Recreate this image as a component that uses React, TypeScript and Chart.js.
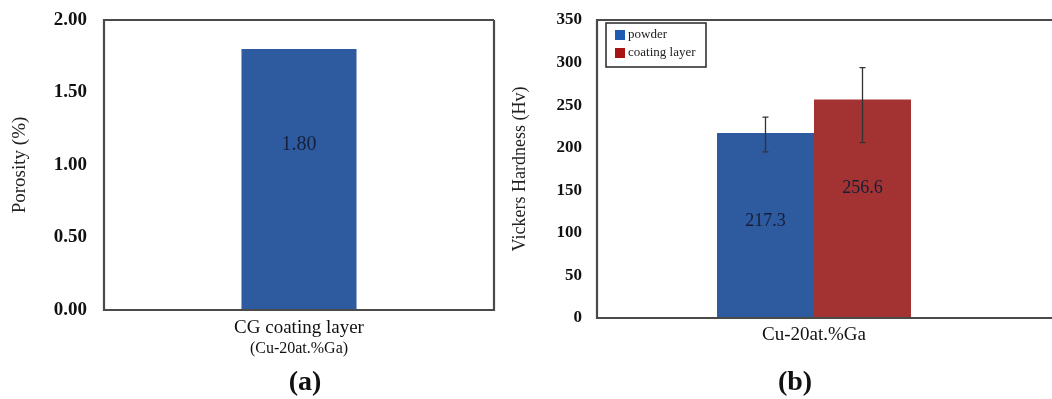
import React, { useEffect, useRef } from "react";
import { Chart, registerables } from "chart.js";

Chart.register(...registerables);

// ---- Panel (a) data ----
const porosityCategories = ["CG coating layer"];
const porosityValues = [1.8];
const porosityLabels = ["1.80"];
const porosityTicks = [0, 0.5, 1.0, 1.5, 2.0];

// ---- Panel (b) data ----
const hardnessCategories = ["Cu-20at.%Ga"];
const powderValues = [217.3];
const coatingValues = [256.6];
const powderErrLow = [195];
const powderErrHigh = [236];
const coatingErrLow = [206];
const coatingErrHigh = [294];
const hardnessTicks = [0, 50, 100, 150, 200, 250, 300, 350];

const SERIF = "'Liberation Serif', 'Times New Roman', serif";
const FRAME = "#4a4a4a";
const CLEAR = "rgba(0,0,0,0)";

const framePlugin = {
  id: "frame",
  afterDatasetsDraw(chart: any, _args: any, opts: any) {
    const { ctx, chartArea } = chart;
    const { left, right, top, bottom } = chartArea;
    const r = opts.openRight ? chart.width : right;
    ctx.save();
    ctx.strokeStyle = FRAME;
    ctx.lineWidth = 2.2;
    ctx.beginPath();
    ctx.moveTo(r, top);
    ctx.lineTo(left, top);
    ctx.lineTo(left, bottom);
    ctx.lineTo(r, bottom);
    if (!opts.openRight) ctx.lineTo(r, top);
    ctx.stroke();
    ctx.restore();
  },
};

const errorBarPlugin = {
  id: "errorBars",
  afterDatasetsDraw(chart: any, _args: any, opts: any) {
    if (!opts.errors) return;
    const { ctx } = chart;
    const yScale = chart.scales.y;
    ctx.save();
    ctx.strokeStyle = "#333333";
    ctx.lineWidth = 1.3;
    opts.errors.forEach((err: any, di: number) => {
      const meta = chart.getDatasetMeta(di);
      meta.data.forEach((bar: any, i: number) => {
        const yHi = yScale.getPixelForValue(err.high[i]);
        const yLo = yScale.getPixelForValue(err.low[i]);
        const x = bar.x;
        ctx.beginPath();
        ctx.moveTo(x, yHi);
        ctx.lineTo(x, yLo);
        ctx.moveTo(x - 3, yHi);
        ctx.lineTo(x + 3, yHi);
        ctx.moveTo(x - 3, yLo);
        ctx.lineTo(x + 3, yLo);
        ctx.stroke();
      });
    });
    ctx.restore();
  },
};

const barLabelPlugin = {
  id: "barLabels",
  afterDatasetsDraw(chart: any, _args: any, opts: any) {
    if (!opts.labels) return;
    const { ctx } = chart;
    ctx.save();
    ctx.textAlign = "center";
    ctx.textBaseline = "middle";
    ctx.font = opts.font;
    ctx.fillStyle = opts.color;
    opts.labels.forEach((labels: string[], di: number) => {
      const meta = chart.getDatasetMeta(di);
      meta.data.forEach((bar: any, i: number) => {
        const frac = opts.fractions[di];
        const y = bar.y + (bar.base - bar.y) * frac;
        ctx.fillText(labels[i], bar.x, y);
      });
    });
    ctx.restore();
  },
};

const captionPlugin = {
  id: "caption",
  afterDraw(chart: any, _args: any, opts: any) {
    if (!opts.text) return;
    const { ctx } = chart;
    ctx.save();
    ctx.textAlign = "center";
    ctx.textBaseline = "middle";
    ctx.font = `bold 28px ${SERIF}`;
    ctx.fillStyle = "#111111";
    ctx.fillText(opts.text, opts.x, opts.y);
    ctx.restore();
  },
};

const boxLegendPlugin = {
  id: "boxLegend",
  afterDraw(chart: any, _args: any, opts: any) {
    if (!opts.show) return;
    const { ctx, chartArea } = chart;
    const x0 = chartArea.left + 9;
    const y0 = chartArea.top + 3;
    const w = 100;
    const h = 44;
    ctx.save();
    ctx.fillStyle = "#ffffff";
    ctx.fillRect(x0, y0, w, h);
    ctx.strokeStyle = "#333333";
    ctx.lineWidth = 1.6;
    ctx.strokeRect(x0, y0, w, h);
    ctx.font = `13px ${SERIF}`;
    ctx.textBaseline = "middle";
    ctx.textAlign = "left";
    chart.data.datasets.forEach((ds: any, i: number) => {
      const cy = y0 + 12 + i * 18;
      ctx.fillStyle = opts.swatches[i];
      ctx.fillRect(x0 + 9, cy - 5, 10, 10);
      ctx.fillStyle = "#222222";
      ctx.fillText(ds.label, x0 + 22, cy);
    });
    ctx.restore();
  },
};

function PorosityChart() {
  const ref = useRef<HTMLCanvasElement>(null);
  useEffect(() => {
    const chart = new Chart(ref.current as HTMLCanvasElement, {
      type: "bar",
      data: {
        labels: porosityCategories,
        datasets: [
          {
            label: "Porosity",
            data: porosityValues,
            backgroundColor: "#2e5a9f",
            borderWidth: 0,
            categoryPercentage: 0.295,
            barPercentage: 1,
          },
        ],
      },
      options: {
        responsive: false,
        animation: false,
        devicePixelRatio: 1,
        layout: { padding: { left: 0, right: 6, top: 20, bottom: 40.4 } },
        plugins: {
          legend: { display: false },
          tooltip: { enabled: false },
          title: { display: false },
          frame: { openRight: false },
          caption: { text: "(a)", x: 305, y: 383 },
          barLabels: {
            labels: [porosityLabels],
            fractions: [0.368],
            font: `20px ${SERIF}`,
            color: "#16213d",
          },
          errorBars: {},
          boxLegend: { show: false },
        } as any,
        scales: {
          x: {
            grid: { display: false, drawTicks: false },
            border: { display: false },
            ticks: {
              padding: 6.6,
              color: "#111111",
              font: { family: SERIF, size: 19, lineHeight: 1.2 },
            },
            title: {
              display: true,
              text: "(Cu-20at.%Ga)",
              color: "#111111",
              font: { family: SERIF, size: 16, lineHeight: 1.2 },
              padding: { top: 0, bottom: 0 },
            },
            afterFit: (s: any) => {
              s.height = 48.6;
            },
          },
          y: {
            min: 0,
            max: 2,
            grid: { display: true, color: CLEAR, drawTicks: true, tickLength: 15 },
            border: { display: false },
            afterBuildTicks: (s: any) => {
              s.ticks = porosityTicks.map((v) => ({ value: v }));
            },
            ticks: {
              padding: 2,
              color: "#111111",
              font: { family: SERIF, size: 19, weight: "bold" },
              callback: (v: any) => Number(v).toFixed(2),
            },
            title: {
              display: true,
              text: "Porosity (%)",
              color: "#222222",
              font: { family: SERIF, size: 19, lineHeight: 1.2 },
              padding: { top: 8.6, bottom: 0 },
            },
            afterFit: (s: any) => {
              s.width = 104;
            },
          },
        },
      },
      plugins: [framePlugin, barLabelPlugin, errorBarPlugin, boxLegendPlugin, captionPlugin],
    });
    return () => chart.destroy();
  }, []);
  return (
    <canvas
      ref={ref}
      width={500}
      height={399}
      style={{ position: "absolute", left: 0, top: 0, width: 500, height: 399 }}
    />
  );
}

function HardnessChart() {
  const ref = useRef<HTMLCanvasElement>(null);
  useEffect(() => {
    const chart = new Chart(ref.current as HTMLCanvasElement, {
      type: "bar",
      data: {
        labels: hardnessCategories,
        datasets: [
          {
            label: "powder",
            data: powderValues,
            backgroundColor: "#2e5a9f",
            borderWidth: 0,
            categoryPercentage: 0.447,
            barPercentage: 1,
          },
          {
            label: "coating layer",
            data: coatingValues,
            backgroundColor: "#a33332",
            borderWidth: 0,
            categoryPercentage: 0.447,
            barPercentage: 1,
          },
        ],
      },
      options: {
        responsive: false,
        animation: false,
        devicePixelRatio: 1,
        layout: { padding: { left: 0, right: 21, top: 20, bottom: 41 } },
        plugins: {
          legend: { display: false },
          tooltip: { enabled: false },
          title: { display: false },
          frame: { openRight: true },
          caption: { text: "(b)", x: 295, y: 383 },
          barLabels: {
            labels: [powderValues.map((v) => v.toFixed(1)), coatingValues.map((v) => v.toFixed(1))],
            fractions: [0.48, 0.405],
            font: `18px ${SERIF}`,
            color: "#161d38",
          },
          errorBars: {
            errors: [
              { low: powderErrLow, high: powderErrHigh },
              { low: coatingErrLow, high: coatingErrHigh },
            ],
          },
          boxLegend: { show: true, swatches: ["#1f5cb0", "#a81414"] },
        } as any,
        scales: {
          x: {
            grid: { display: false, drawTicks: false },
            border: { display: false },
            ticks: {
              padding: 5.6,
              color: "#111111",
              font: { family: SERIF, size: 19, lineHeight: 1.2 },
            },
            afterFit: (s: any) => {
              s.height = 40;
            },
          },
          y: {
            min: 0,
            max: 350,
            grid: { display: true, color: CLEAR, drawTicks: true, tickLength: 13 },
            border: { display: false },
            afterBuildTicks: (s: any) => {
              s.ticks = hardnessTicks.map((v) => ({ value: v }));
            },
            ticks: {
              padding: 2,
              color: "#111111",
              font: { family: SERIF, size: 17, weight: "bold" },
            },
            title: {
              display: true,
              text: "Vickers Hardness (Hv)",
              color: "#222222",
              font: { family: SERIF, size: 18, lineHeight: 1.2 },
              padding: { top: 9.2, bottom: 0 },
            },
            afterFit: (s: any) => {
              s.width = 97;
            },
          },
        },
      },
      plugins: [framePlugin, barLabelPlugin, errorBarPlugin, boxLegendPlugin, captionPlugin],
    });
    return () => chart.destroy();
  }, []);
  return (
    <canvas
      ref={ref}
      width={552}
      height={399}
      style={{ position: "absolute", left: 500, top: 0, width: 552, height: 399 }}
    />
  );
}

export default function App() {
  return (
    <div
      style={{
        position: "fixed",
        left: 0,
        top: 0,
        width: 1052,
        height: 399,
        background: "#ffffff",
        overflow: "hidden",
      }}
    >
      <PorosityChart />
      <HardnessChart />
    </div>
  );
}
